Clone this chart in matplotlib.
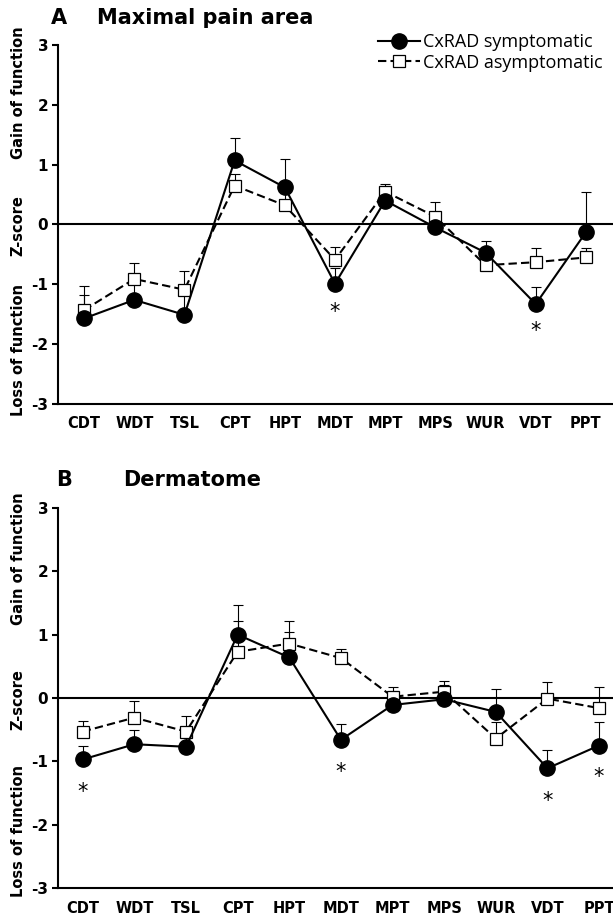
import numpy as np
import matplotlib.pyplot as plt

tests = ["CDT", "WDT", "TSL", "CPT", "HPT", "MDT", "MPT", "MPS", "WUR", "VDT", "PPT"]

# panel A - maximal pain area
a_sym = [-1.57, -1.26, -1.51, 1.07, 0.62, -0.99, 0.40, -0.05, -0.47, -1.33, -0.13]
a_sym_err = [0.40, 0.30, 0.40, 0.38, 0.48, 0.27, 0.12, 0.22, 0.19, 0.29, 0.68]
a_asym = [-1.43, -0.91, -1.09, 0.65, 0.32, -0.59, 0.55, 0.13, -0.68, -0.63, -0.55]
a_asym_err = [0.41, 0.27, 0.31, 0.20, 0.20, 0.21, 0.13, 0.25, 0.15, 0.23, 0.15]
a_star = {5: -1.47, 9: -1.78}

# panel B - dermatome
b_sym = [-0.97, -0.73, -0.77, 1.00, 0.64, -0.66, -0.11, -0.02, -0.22, -1.11, -0.75]
b_sym_err = [0.21, 0.22, 0.20, 0.47, 0.40, 0.25, 0.18, 0.22, 0.37, 0.29, 0.37]
b_asym = [-0.53, -0.31, -0.53, 0.73, 0.86, 0.63, 0.02, 0.10, -0.64, -0.01, -0.16]
b_asym_err = [0.17, 0.26, 0.24, 0.49, 0.36, 0.14, 0.15, 0.17, 0.26, 0.26, 0.33]
b_star = {0: -1.48, 5: -1.17, 9: -1.62, 10: -1.25}

W, H = 613, 922
plt.rcParams['font.family'] = 'DejaVu Sans'
plt.rcParams['axes.unicode_minus'] = False
fig = plt.figure(figsize=(W / 100, H / 100), dpi=100)


def panel(rect, xlim, sym, sym_err, asym, asym_err, stars, letter, title, title_x, title_y, legend=False):
    ax = fig.add_axes(rect)
    x = np.arange(len(tests))
    ax.axhline(0, color='black', lw=1.5, zorder=1)
    ax.errorbar(x, asym, yerr=[np.zeros(len(x)), asym_err], fmt='none', ecolor='black',
                elinewidth=0.8, capsize=3.5, capthick=0.8, zorder=2)
    ax.errorbar(x, sym, yerr=[np.zeros(len(x)), sym_err], fmt='none', ecolor='black',
                elinewidth=0.8, capsize=3.5, capthick=0.8, zorder=2)
    ax.plot(x, asym, color='black', lw=1.5, linestyle=(0, (4, 2)), marker='s', ms=8.5,
            mfc='white', mec='black', mew=0.9, label='CxRAD asymptomatic', zorder=3)
    ax.plot(x, sym, color='black', lw=1.5, marker='o', ms=11, mfc='black', mec='black',
            label='CxRAD symptomatic', zorder=4)
    for i, v in stars.items():
        ax.text(i, v, '*', ha='center', va='center', fontsize=15)
    ax.set_xlim(*xlim)
    ax.set_ylim(-3, 3)
    ax.set_yticks([-3, -2, -1, 0, 1, 2, 3])
    ax.set_xticks(x)
    ax.set_xticklabels(tests, fontweight='bold', fontsize=10.5)
    for lab in ax.get_yticklabels():
        lab.set_fontweight('bold')
        lab.set_fontsize(11)
    ax.tick_params(axis='x', length=0, pad=9)
    ax.tick_params(axis='y', length=4, width=1.5, pad=3)
    ax.spines['top'].set_visible(False)
    ax.spines['right'].set_visible(False)
    ax.spines['left'].set_linewidth(1.5)
    ax.spines['bottom'].set_linewidth(1.5)
    tr = ax.get_yaxis_transform()
    for txt, yy in [('Gain of function', 2.2), ('Z-score', -0.02), ('Loss of function', -2.1)]:
        ax.text(-0.072, yy, txt, transform=tr, rotation=90, ha='center', va='center',
                fontweight='bold', fontsize=10.5)
    fig.text(letter[1] / W, 1 - title_y / H, letter[0], ha='left', va='center',
             fontweight='bold', fontsize=15)
    fig.text(title_x / W, 1 - title_y / H, title, ha='left', va='center',
             fontweight='bold', fontsize=15)
    if legend:
        h, l = ax.get_legend_handles_labels()
        ax.legend(h[::-1], l[::-1], loc='upper left', bbox_to_anchor=(378 / W, 1 - 33 / H),
                  bbox_transform=fig.transFigure, frameon=False,
                  handlelength=2.3, handletextpad=0.2, labelspacing=0.15, borderaxespad=0,
                  borderpad=0, prop={'family': 'Open Sans', 'size': 13})
    return ax


panel([58 / W, 1 - 404 / H, (W - 58) / W, 359 / H], (-0.52, 10.54),
      a_sym, a_sym_err, a_asym, a_asym_err, a_star, ('A', 51), 'Maximal pain area', 97, 18, legend=True)
panel([58 / W, 1 - 888 / H, (W - 58) / W, 380 / H], (-0.48, 10.27),
      b_sym, b_sym_err, b_asym, b_asym_err, b_star, ('B', 56), 'Dermatome', 123, 480)

fig.savefig('out.png', dpi=100)
